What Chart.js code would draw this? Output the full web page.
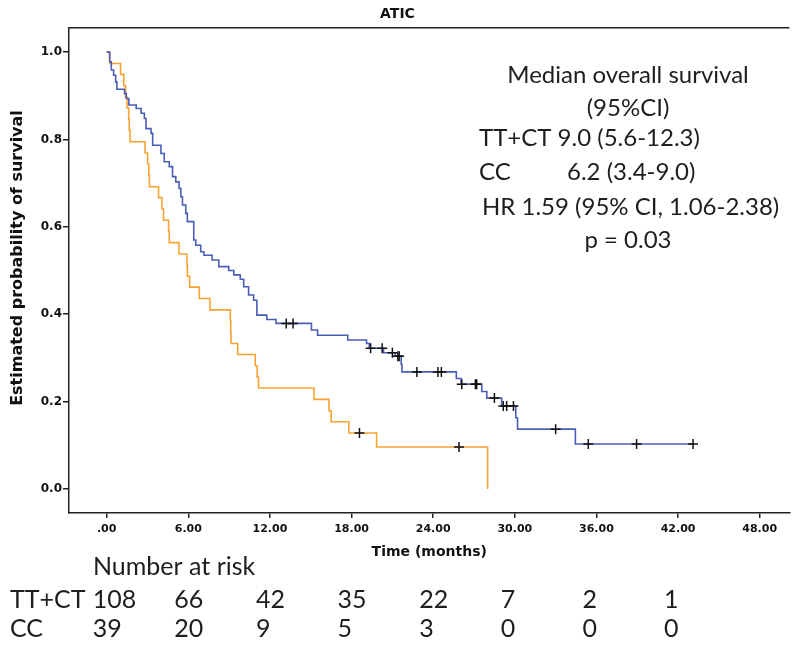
<!DOCTYPE html>
<html>
<head>
<meta charset="utf-8">
<script src="https://cdn.jsdelivr.net/npm/chart.js@4"></script>
<style>
body { margin: 0; background: #fff; }
#wrap { width: 796px; height: 647px; }
</style>
</head>
<body>
<div id="wrap"><canvas id="kmChart"></canvas></div>
<script>
// Kaplan-Meier steps (time in months, survival after the drop)
const ttctTimes = [0, 0.22, 0.34, 0.51, 0.66, 0.75, 1.31, 1.44, 1.63, 2.17, 2.53, 2.77, 2.89, 3.26, 3.38, 3.99, 4.23, 4.6, 4.84, 5.08, 5.32, 5.45, 5.57, 5.81, 5.93, 6.4, 6.55, 6.91, 7.15, 7.75, 8.24, 8.97, 9.34, 9.82, 10.07, 10.43, 10.8, 11.04, 11.77, 12.45, 15.05, 15.5, 17.72, 19.1, 19.3, 20.35, 21.2, 21.65, 21.7, 25.7, 26.05, 27.57, 27.94, 29.03, 30.07, 30.2, 34.45, 43.1];
const ttctSurv = [1, 0.978, 0.959, 0.947, 0.932, 0.915, 0.905, 0.894, 0.879, 0.871, 0.86, 0.848, 0.825, 0.814, 0.787, 0.768, 0.749, 0.738, 0.715, 0.703, 0.688, 0.669, 0.65, 0.631, 0.612, 0.57, 0.558, 0.543, 0.535, 0.524, 0.509, 0.5, 0.49, 0.48, 0.463, 0.444, 0.432, 0.398, 0.388, 0.379, 0.364, 0.352, 0.341, 0.333, 0.322, 0.312, 0.304, 0.285, 0.268, 0.253, 0.24, 0.223, 0.208, 0.19, 0.163, 0.137, 0.103, 0.103];
const ttctCensored = [13.2, 13.7, 19.4, 20.25, 21.0, 21.4, 21.5, 22.8, 24.35, 24.6, 26.1, 27.1, 27.2, 28.5, 29.15, 29.4, 29.9, 33.0, 35.4, 38.95, 43.1];

const ccTimes = [0, 0.22, 1.02, 1.26, 1.39, 1.5, 1.62, 1.66, 1.72, 2.82, 3.01, 3.1, 3.14, 3.81, 4.06, 4.18, 4.55, 4.6, 5.32, 5.9, 5.93, 6.1, 6.81, 7.59, 9.09, 9.12, 9.14, 9.63, 10.92, 11.06, 11.16, 15.24, 16.34, 16.5, 17.8, 19.84, 28.0];
const ccSurv = [1, 0.974, 0.949, 0.923, 0.897, 0.872, 0.846, 0.821, 0.795, 0.769, 0.744, 0.718, 0.692, 0.667, 0.641, 0.615, 0.59, 0.564, 0.538, 0.513, 0.487, 0.462, 0.436, 0.41, 0.385, 0.359, 0.333, 0.308, 0.282, 0.256, 0.231, 0.205, 0.179, 0.154, 0.128, 0.096, 0];
const ccCensored = [18.58, 25.9];

const xTicks = [0, 6, 12, 18, 24, 30, 36, 42, 48];
const yTicks = [0, 0.2, 0.4, 0.6, 0.8, 1.0];

const riskTimes = [0, 6, 12, 18, 24, 30, 36, 42];
const riskTTCT = [108, 66, 42, 35, 22, 7, 2, 1];
const riskCC = [39, 20, 9, 5, 3, 0, 0, 0];

const statsLines = ['Median overall survival', '(95%CI)', 'TT+CT 9.0 (5.6-12.3)', 'CC', '6.2 (3.4-9.0)', 'HR 1.59 (95% CI, 1.06-2.38)', 'p = 0.03'];

const blue = '#4a5db6';
const orange = '#f7a334';

function toPoints(times, surv) {
    return times.map((t, i) => ({ x: t, y: surv[i] }));
}

function survAt(times, surv, t) {
    let s = surv[0];
    for (let i = 0; i < times.length; i++) {
        if (times[i] <= t) s = surv[i];
    }
    return s;
}

function censorPoints(cens, times, surv) {
    return cens.map(t => ({ x: t, y: survAt(times, surv, t) }));
}

const extras = {
    id: 'extras',
    afterDraw(chart) {
        const ctx = chart.ctx;
        const area = chart.chartArea;
        const xs = chart.scales.x;
        ctx.save();

        ctx.strokeStyle = '#222';
        ctx.lineWidth = 1.5;
        ctx.beginPath();
        ctx.moveTo(area.left, area.top);
        ctx.lineTo(area.right, area.top);
        ctx.stroke();

        ctx.fillStyle = '#111';
        ctx.textBaseline = 'middle';
        ctx.textAlign = 'center';
        ctx.font = 'bold 16px "DejaVu Sans"';
        ctx.save();
        ctx.translate(17.5, 258);
        ctx.rotate(-Math.PI / 2);
        ctx.fillText('Estimated probability of survival', 0, 0);
        ctx.restore();

        // stats block
        ctx.fillStyle = '#1e1e1e';
        ctx.textBaseline = 'alphabetic';
        ctx.font = '24px Lato';
        ctx.textAlign = 'center';
        ctx.fillText(statsLines[0], 628, 83);
        ctx.fillText(statsLines[1], 628, 116);
        ctx.textAlign = 'left';
        ctx.fillText(statsLines[2], 479, 146);
        ctx.fillText(statsLines[3], 479, 180);
        ctx.fillText(statsLines[4], 567, 180);
        ctx.fillText(statsLines[5], 482, 215);
        ctx.textAlign = 'center';
        ctx.fillText(statsLines[6], 628, 248);

        // number at risk
        ctx.font = '25px Lato';
        ctx.textAlign = 'left';
        ctx.fillText('Number at risk', 93, 575);
        ctx.fillText('TT+CT', 10, 608);
        ctx.fillText('CC', 10, 637);
        riskTimes.forEach((t, i) => {
            const px = xs.getPixelForValue(t) - 14;
            ctx.fillText(String(riskTTCT[i]), px, 608);
            ctx.fillText(String(riskCC[i]), px, 637);
        });

        ctx.restore();
    }
};

new Chart(document.getElementById('kmChart'), {
    type: 'scatter',
    data: {
        datasets: [
            {
                label: 'TT+CT censored',
                data: censorPoints(ttctCensored, ttctTimes, ttctSurv),
                pointStyle: 'cross',
                pointRadius: 5,
                pointBorderWidth: 1.5,
                borderColor: '#111',
                backgroundColor: '#111'
            },
            {
                label: 'CC censored',
                data: censorPoints(ccCensored, ccTimes, ccSurv),
                pointStyle: 'cross',
                pointRadius: 5,
                pointBorderWidth: 1.5,
                borderColor: '#111',
                backgroundColor: '#111'
            },
            {
                label: 'TT+CT',
                data: toPoints(ttctTimes, ttctSurv),
                showLine: true,
                stepped: 'before',
                borderColor: blue,
                borderWidth: 1.6,
                pointRadius: 0
            },
            {
                label: 'CC',
                data: toPoints(ccTimes, ccSurv),
                showLine: true,
                stepped: 'before',
                borderColor: orange,
                borderWidth: 1.6,
                pointRadius: 0
            }
        ]
    },
    options: {
        responsive: true,
        maintainAspectRatio: false,
        animation: false,
        layout: { padding: { left: 0, right: 1, top: 0, bottom: 84 } },
        plugins: {
            legend: { display: false },
            tooltip: { enabled: false },
            title: {
                display: true,
                text: 'ATIC',
                color: '#111',
                font: { family: 'DejaVu Sans', size: 14, weight: 'bold' },
                padding: { top: 6, bottom: 5 }
            }
        },
        scales: {
            x: {
                type: 'linear',
                min: -2.77,
                max: 50.19,
                afterBuildTicks: (scale) => { scale.ticks = xTicks.map(v => ({ value: v })); },
                afterFit: (scale) => { scale.height = 50; },
                ticks: {
                    color: '#111',
                    padding: 5,
                    maxRotation: 0,
                    font: { family: 'DejaVu Sans', size: 11, weight: 'bold' },
                    callback: (v) => v === 0 ? '.00' : v.toFixed(2)
                },
                grid: { drawOnChartArea: false, drawTicks: true, tickLength: 5, color: '#222', lineWidth: 1.5 },
                border: { display: true, color: '#222', width: 1.5 },
                title: {
                    display: true,
                    text: 'Time (months)',
                    color: '#111',
                    font: { family: 'DejaVu Sans', size: 14, weight: 'bold' },
                    padding: { top: 0, bottom: 2 }
                }
            },
            y: {
                type: 'linear',
                min: -0.055,
                max: 1.0557,
                afterBuildTicks: (scale) => { scale.ticks = yTicks.map(v => ({ value: v })); },
                afterFit: (scale) => { scale.width = 69; },
                ticks: {
                    color: '#111',
                    padding: 1,
                    font: { family: 'DejaVu Sans', size: 12, weight: 'bold' },
                    callback: (v) => v.toFixed(1)
                },
                grid: { drawOnChartArea: false, drawTicks: true, tickLength: 6, color: '#222', lineWidth: 1.5 },
                border: { display: true, color: '#222', width: 1.5 }
            }
        }
    },
    plugins: [extras]
});
</script>
</body>
</html>
